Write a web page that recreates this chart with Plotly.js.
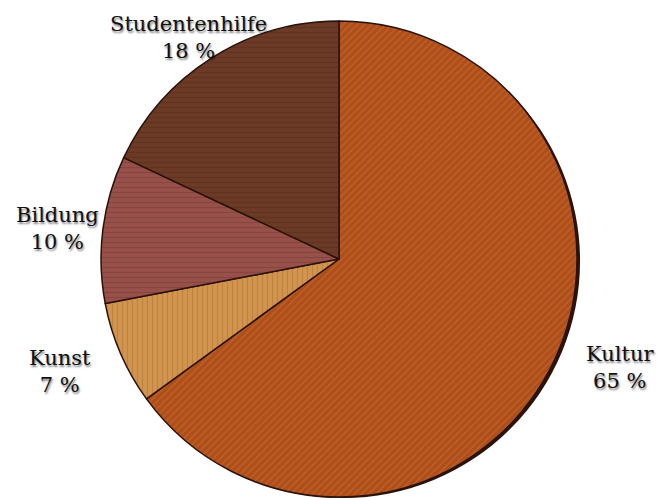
<!DOCTYPE html>
<html>
<head>
<meta charset="utf-8">
<script src="https://cdn.plot.ly/plotly-3.0.1.min.js"></script>
<style>
  html, body { margin: 0; padding: 0; background: #ffffff; }
  #chart { width: 659px; height: 498px; }
</style>
</head>
<body>
<div id="chart"></div>
<script>
// Budget shares (percent), clockwise from 12 o'clock
const categories = ['Kultur', 'Kunst', 'Bildung', 'Studentenhilfe'];
const shares = [65, 7, 10, 18];

// Wood tones: base colour and grain colour for each slice
const woodBase  = ['#ae4f1b', '#d29550', '#97504a', '#6c3a25'];
const woodGrain = ['#d27634', '#ad7131', '#78393a', '#522d1d'];
const grainShape = ['/', '|', '-', '-'];

const W = 659, H = 498;
// Label anchor points (pixels) around the board
const labelAt = {
  'Kultur':         [620, 367],
  'Kunst':          [60, 371],
  'Bildung':        [57, 229],
  'Studentenhilfe': [188, 37]
};

// Dark rim under the board, slightly offset to the lower right
const rim = {
  type: 'pie',
  values: [1],
  labels: ['rim'],
  marker: { colors: ['#2b1409'], line: { width: 0 } },
  textinfo: 'none',
  hoverinfo: 'skip',
  sort: false,
  showlegend: false,
  domain: { x: [0.1593, 0.8816], y: [0.0, 0.9518] }
};

const board = {
  type: 'pie',
  values: shares,
  labels: categories,
  sort: false,
  direction: 'clockwise',
  rotation: 0,
  marker: {
    colors: woodBase,
    line: { color: '#2a1208', width: 1.5 },
    pattern: {
      shape: grainShape,
      fillmode: 'overlay',
      fgcolor: woodGrain,
      fgopacity: 0.5,
      size: 5,
      solidity: 0.25
    }
  },
  textinfo: 'none',
  hoverinfo: 'label+value',
  showlegend: false,
  domain: { x: [0.1533, 0.8756], y: [0.002, 0.9578] }
};

const labelFont = {
  family: 'DejaVu Serif, Liberation Serif, serif',
  size: 21,
  color: '#111111',
  shadow: '1px 2px 2px rgba(0,0,0,0.5)'
};

const annotations = categories.map((name, i) => ({
  text: name + '<br>' + shares[i] + ' %',
  x: labelAt[name][0] / W,
  y: 1 - labelAt[name][1] / H,
  xref: 'paper',
  yref: 'paper',
  xanchor: 'center',
  yanchor: 'middle',
  showarrow: false,
  align: 'center',
  font: labelFont
}));

const layout = {
  width: W,
  height: H,
  margin: { l: 0, r: 0, t: 0, b: 0 },
  paper_bgcolor: '#ffffff',
  plot_bgcolor: '#ffffff',
  showlegend: false,
  annotations: annotations
};

Plotly.newPlot('chart', [rim, board], layout, { displayModeBar: false, staticPlot: true });
</script>
</body>
</html>
